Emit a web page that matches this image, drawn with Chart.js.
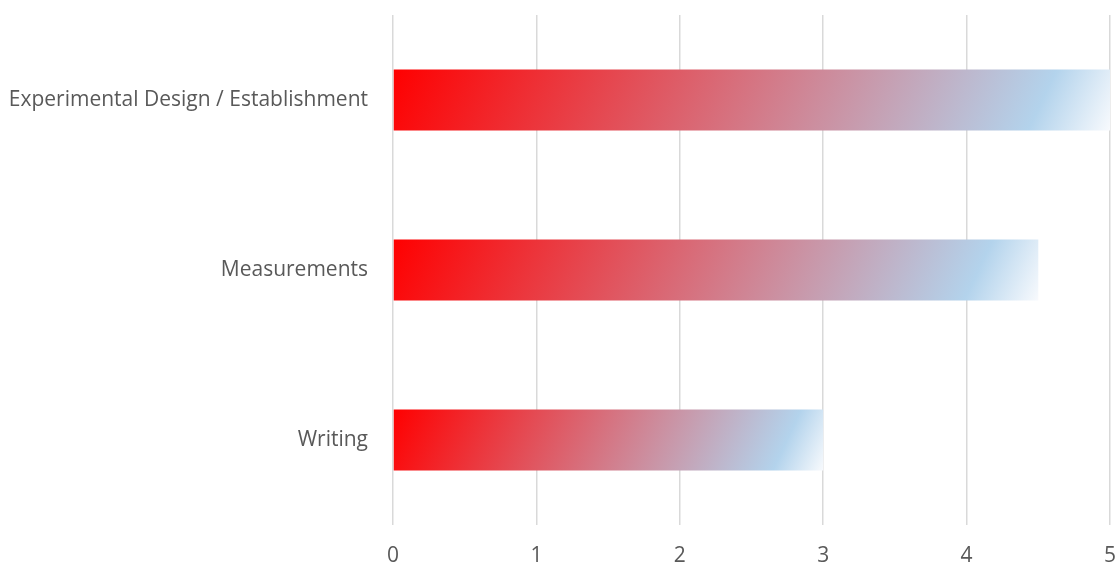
<!DOCTYPE html>
<html>
<head>
<meta charset="utf-8">
<script src="https://cdn.jsdelivr.net/npm/chart.js@4.4.1/dist/chart.umd.min.js"></script>
<style>
  html, body { margin: 0; padding: 0; background: #fff; }
  #wrap { width: 1117px; height: 565px; }
</style>
</head>
<body>
<div id="wrap"><canvas id="myChart" width="1117" height="565"></canvas></div>
<script>
const tasks = ["Experimental Design / Establishment", "Measurements", "Writing"];
const scores = [5, 4.5, 3];
const xTicks = [0, 1, 2, 3, 4, 5];

const textColor = '#595959';
const font = { family: 'Open Sans', size: 21 };

// red -> light blue -> white, tilted a bit like the office gradient fill
function barGradient(ctx) {
  const chart = ctx.chart;
  const xs = chart.scales.x, ys = chart.scales.y;
  if (!xs || !ys || ctx.dataIndex === undefined) return '#ff0000';
  const left = xs.getPixelForValue(0);
  const right = xs.getPixelForValue(ctx.raw);
  const h = 62;
  const top = ys.getPixelForValue(ctx.dataIndex) - h / 2;
  if (![left, right, top].every(Number.isFinite) || right <= left) return '#ff0000';
  const a = 25 * Math.PI / 180;
  const w = right - left;
  const len = w * Math.cos(a) + h * Math.sin(a);
  const g = chart.ctx.createLinearGradient(left, top, left + len * Math.cos(a), top + len * Math.sin(a));
  g.addColorStop(0, '#ff0000');
  g.addColorStop(0.89, '#b3d3ec');
  g.addColorStop(1, '#f8fafd');
  return g;
}

let myChart = new Chart(document.getElementById('myChart'), {
  type: 'bar',
  data: {
    labels: tasks,
    datasets: [{
      data: scores,
      backgroundColor: barGradient,
      borderWidth: 0,
      barPercentage: 0.9,
      categoryPercentage: 0.36 / 0.9,
    }]
  },
  options: {
    indexAxis: 'y',
    responsive: false,
    animation: false,
    layout: { padding: { top: 15, right: 7, left: 0, bottom: 0 } },
    plugins: { legend: { display: false }, tooltip: { enabled: false } },
    scales: {
      x: {
        min: 0,
        max: 5,
        afterBuildTicks: (s) => { s.ticks = xTicks.map(v => ({ value: v })); },
        afterFit: (s) => { s.height = 40; s.paddingLeft = 0; s.paddingRight = 0; },
        grid: { color: '#d9d9d9', lineWidth: 1.5, drawTicks: false },
        border: { display: false },
        ticks: { color: textColor, font: font, padding: 18, maxRotation: 0 }
      },
      y: {
        afterFit: (s) => { s.width = 393; s.paddingTop = 0; s.paddingBottom = 0; },
        grid: { display: false, drawTicks: false },
        border: { display: false },
        ticks: { color: textColor, font: font, padding: 25 }
      }
    }
  }
});
</script>
</body>
</html>
